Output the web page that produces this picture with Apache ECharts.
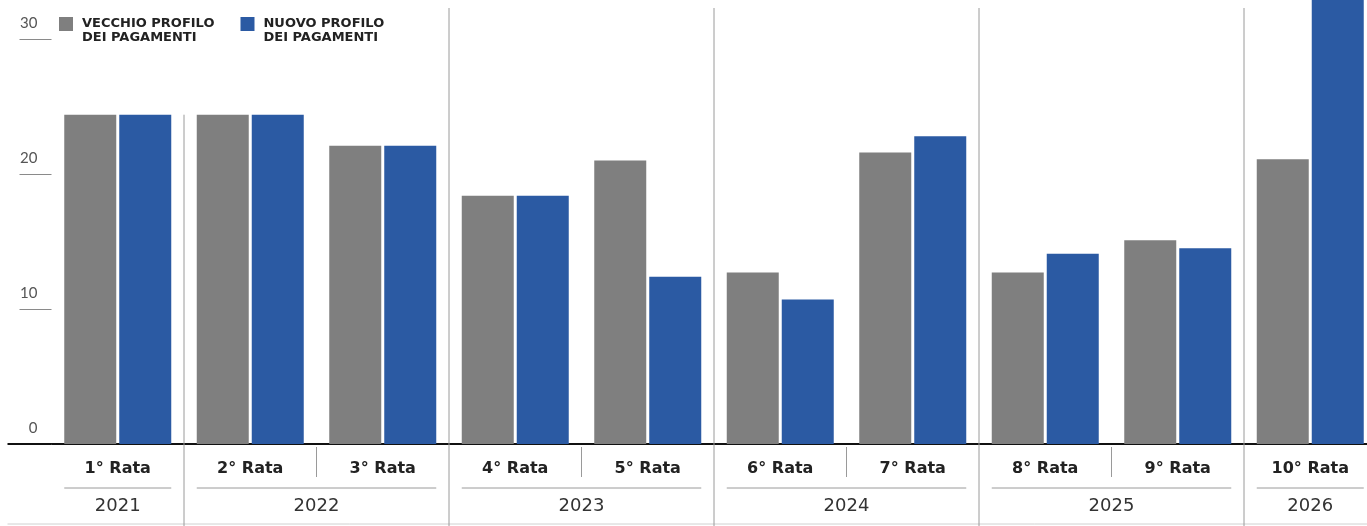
<!DOCTYPE html>
<html>
<head>
<meta charset="utf-8">
<script src="https://cdn.jsdelivr.net/npm/echarts@6/dist/echarts.min.js"></script>
<style>
  html, body { margin: 0; padding: 0; background: #ffffff; overflow: hidden; }
  #chart { width: 1380px; height: 526px; }
</style>
</head>
<body>
<div id="chart"></div>
<script>
// ---- data ----
const categories = ['1° Rata', '2° Rata', '3° Rata', '4° Rata', '5° Rata', '6° Rata', '7° Rata', '8° Rata', '9° Rata', '10° Rata'];
const oldProfile = [24.4, 24.4, 22.1, 18.4, 21.0, 12.7, 21.6, 12.7, 15.1, 21.1];
const newProfile = [24.4, 24.4, 22.1, 18.4, 12.4, 10.7, 22.8, 14.1, 14.5, 34.0];
const years = ['2021', '2022', '2023', '2024', '2025', '2026'];
const ratesPerYear = [1, 2, 2, 2, 2, 1];
const yTicks = [0, 10, 20, 30];
const seriesNames = ['VECCHIO PROFILO\nDEI PAGAMENTI', 'NUOVO PROFILO\nDEI PAGAMENTI'];

// ---- derived year groups ----
const yearGroups = [];
let acc = 0;
ratesPerYear.forEach((n, i) => { yearGroups.push([acc, acc + n, i]); acc += n; });
const yearCenters = yearGroups.map(g => (g[0] + g[1]) / 2);

const BAR_W = 52, BAR_GAP = 3;
const FONT = 'Lato, "Open Sans", sans-serif';
const WIDE = '"DejaVu Sans", sans-serif';

const chart = echarts.init(document.getElementById('chart'), null, { renderer: 'canvas' });

function renderDecor(params, api) {
  const start = api.value(0), end = api.value(1), idx = api.value(2);
  const cs = params.coordSys;
  const p0 = api.coord([start, 0]);
  const p1 = api.coord([end, 0]);
  const baseY = p0[1];
  const bandW = api.size([1, 0])[0];
  const inset = (bandW - 2 * BAR_W - BAR_GAP) / 2;
  const children = [];
  const grey = '#9a9a9a';
  children.push({ type: 'line', shape: { x1: p0[0] + inset, y1: baseY + 44, x2: p1[0] - inset, y2: baseY + 44 },
    style: { stroke: grey, lineWidth: 1 } });
  if (start > 0) {
    let topY = cs.y + 8;
    if (idx === 1) {
      const v = Math.max(oldProfile[start - 1], newProfile[start - 1], oldProfile[start], newProfile[start]);
      topY = api.coord([start, v])[1];
    }
    children.push({ type: 'line', shape: { x1: p0[0], y1: topY, x2: p0[0], y2: baseY + 82 },
      style: { stroke: grey, lineWidth: 1 } });
  }
  for (let k = start + 1; k < end; k++) {
    const pk = api.coord([k, 0]);
    children.push({ type: 'line', shape: { x1: pk[0], y1: baseY + 3, x2: pk[0], y2: baseY + 33 },
      style: { stroke: grey, lineWidth: 1 } });
  }
  if (idx === 0) {
    children.push({ type: 'line', shape: { x1: cs.x - 44, y1: baseY, x2: cs.x, y2: baseY },
      style: { stroke: '#111', lineWidth: 2 } });
    children.push({ type: 'line', shape: { x1: cs.x - 44, y1: baseY + 80, x2: cs.x + cs.width, y2: baseY + 80 },
      style: { stroke: '#d0d0d0', lineWidth: 1 } });
  }
  return { type: 'group', children: children };
}

const option = {
  backgroundColor: '#ffffff',
  animation: false,
  textStyle: { fontFamily: FONT },
  legend: {
    left: 59, top: 3, padding: 0,
    icon: 'rect', itemWidth: 14, itemHeight: 14, itemGap: 26,
    selectedMode: false,
    data: seriesNames,
    formatter: function (name) { return '\n' + name; },
    textStyle: { fontFamily: WIDE, fontSize: 13, fontWeight: 'bold', color: '#222', lineHeight: 14, padding: [0, 0, 0, 4] }
  },
  grid: { left: 51.5, top: 0, width: 1325, height: 444, containLabel: false },
  xAxis: [
    {
      type: 'category', data: categories, position: 'bottom',
      axisLine: { show: true, lineStyle: { color: '#111', width: 2 } },
      axisTick: { show: false },
      axisLabel: { fontFamily: WIDE, fontSize: 16, fontWeight: 'bold', color: '#222', margin: 17, interval: 0 }
    },
    {
      type: 'value', min: 0, max: categories.length, position: 'bottom',
      axisLine: { show: false }, axisTick: { show: false }, splitLine: { show: false },
      axisLabel: {
        customValues: yearCenters,
        fontFamily: WIDE, fontSize: 18, color: '#333', margin: 53,
        formatter: function (v) {
          const i = yearCenters.findIndex(c => Math.abs(c - v) < 1e-6);
          return i >= 0 ? years[i] : '';
        }
      }
    }
  ],
  yAxis: {
    type: 'value', min: 0, max: 32.9, offset: 12,
    axisLine: { show: false },
    axisTick: { show: true, length: 32, customValues: yTicks, lineStyle: { color: '#8a8a8a', width: 1 } },
    splitLine: { show: false },
    axisLabel: { customValues: yTicks, fontFamily: FONT, fontSize: 15, color: '#555', margin: 2,
      verticalAlign: 'bottom', padding: [0, 0, 8, 0] }
  },
  series: [
    { name: seriesNames[0], type: 'bar', data: oldProfile, barWidth: BAR_W, barGap: (BAR_GAP / BAR_W * 100) + '%',
      itemStyle: { color: '#7f7f7f' }, clip: true },
    { name: seriesNames[1], type: 'bar', data: newProfile, barWidth: BAR_W,
      itemStyle: { color: '#2b5aa3' }, clip: true },
    { name: 'decor', type: 'custom', xAxisIndex: 1, yAxisIndex: 0, clip: false, silent: true, z: 5,
      data: yearGroups, renderItem: renderDecor }
  ]
};
chart.setOption(option);
</script>
</body>
</html>
